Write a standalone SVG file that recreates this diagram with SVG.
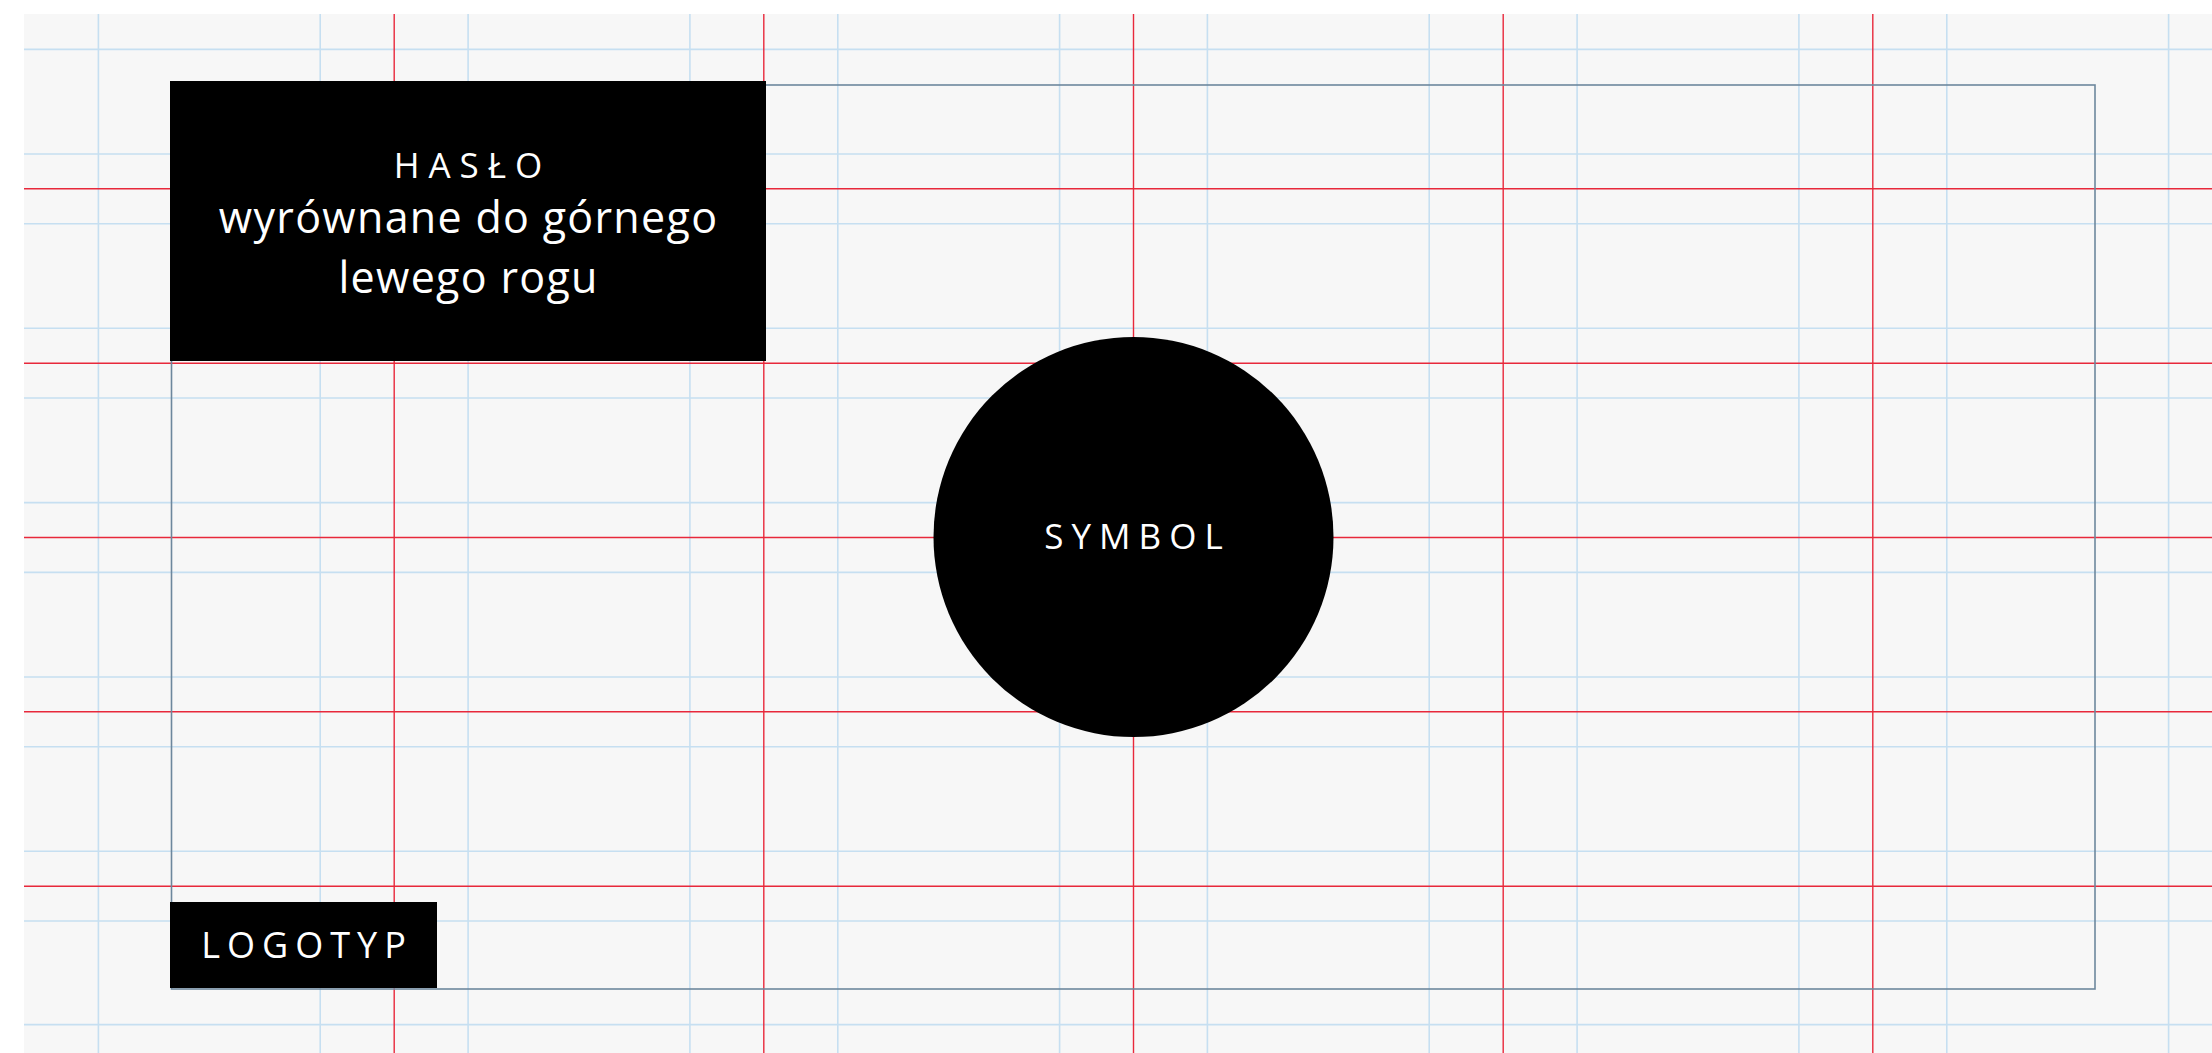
<svg xmlns="http://www.w3.org/2000/svg" width="2212" height="1053" viewBox="0 0 2212 1053">
  <style>
    .bl { stroke: #c6dff1; stroke-width: 1.6; }
    .rd { stroke: #e8283b; stroke-width: 1.4; }
    .frame { fill: none; stroke: #6d879d; stroke-width: 1.6; }
    .blk { fill: #000000; }
    .t { fill: #ffffff; font-family: "Open Sans", "Liberation Sans", sans-serif; text-anchor: middle; }
  </style>
  <rect x="0" y="0" width="2212" height="1053" fill="#ffffff"/>
  <rect x="24" y="14" width="2188" height="1039" fill="#f7f7f7"/>
  <g id="grid">
    <g id="grid-blue-v" class="bl">
      <line x1="98.4" y1="14" x2="98.4" y2="1053"/>
      <line x1="320.2" y1="14" x2="320.2" y2="1053"/>
      <line x1="468.1" y1="14" x2="468.1" y2="1053"/>
      <line x1="689.9" y1="14" x2="689.9" y2="1053"/>
      <line x1="837.8" y1="14" x2="837.8" y2="1053"/>
      <line x1="1059.6" y1="14" x2="1059.6" y2="1053"/>
      <line x1="1207.4" y1="14" x2="1207.4" y2="1053"/>
      <line x1="1429.2" y1="14" x2="1429.2" y2="1053"/>
      <line x1="1577.1" y1="14" x2="1577.1" y2="1053"/>
      <line x1="1798.9" y1="14" x2="1798.9" y2="1053"/>
      <line x1="1946.8" y1="14" x2="1946.8" y2="1053"/>
      <line x1="2168.6" y1="14" x2="2168.6" y2="1053"/>
    </g>
    <g id="grid-blue-h" class="bl">
      <line x1="24" y1="49.4" x2="2212" y2="49.4"/>
      <line x1="24" y1="154" x2="2212" y2="154"/>
      <line x1="24" y1="223.7" x2="2212" y2="223.7"/>
      <line x1="24" y1="328.3" x2="2212" y2="328.3"/>
      <line x1="24" y1="398" x2="2212" y2="398"/>
      <line x1="24" y1="502.6" x2="2212" y2="502.6"/>
      <line x1="24" y1="572.4" x2="2212" y2="572.4"/>
      <line x1="24" y1="677" x2="2212" y2="677"/>
      <line x1="24" y1="746.7" x2="2212" y2="746.7"/>
      <line x1="24" y1="851.3" x2="2212" y2="851.3"/>
      <line x1="24" y1="921" x2="2212" y2="921"/>
      <line x1="24" y1="1024.6" x2="2212" y2="1024.6"/>
    </g>
    <g id="grid-red" class="rd">
      <line x1="394.2" y1="14" x2="394.2" y2="1053"/>
      <line x1="763.8" y1="14" x2="763.8" y2="1053"/>
      <line x1="1133.5" y1="14" x2="1133.5" y2="1053"/>
      <line x1="1503.2" y1="14" x2="1503.2" y2="1053"/>
      <line x1="1872.8" y1="14" x2="1872.8" y2="1053"/>
      <line x1="24" y1="188.8" x2="2212" y2="188.8"/>
      <line x1="24" y1="363.2" x2="2212" y2="363.2"/>
      <line x1="24" y1="537.5" x2="2212" y2="537.5"/>
      <line x1="24" y1="711.8" x2="2212" y2="711.8"/>
      <line x1="24" y1="886.2" x2="2212" y2="886.2"/>
    </g>
  </g>
  <g id="frame">
    <rect class="frame" x="171.5" y="85" width="1923.5" height="904"/>
  </g>
  <g id="haslo">
    <rect class="blk" x="170" y="81" width="596" height="280"/>
    <text class="t" x="472.5" y="178.3" font-size="35" letter-spacing="9">HASŁO</text>
    <text class="t" x="468.6" y="233.3" font-size="43" letter-spacing="1.3">wyrównane do górnego</text>
    <text class="t" x="468.6" y="293.3" font-size="43" letter-spacing="1.3">lewego rogu</text>
  </g>
  <g id="symbol">
    <circle class="blk" cx="1133.5" cy="537" r="200"/>
    <text class="t" x="1137.5" y="549" font-size="35" letter-spacing="8">SYMBOL</text>
  </g>
  <g id="logotyp">
    <rect class="blk" x="170" y="902" width="267" height="86"/>
    <text class="t" x="307" y="958" font-size="36" letter-spacing="7">LOGOTYP</text>
  </g>
</svg>
